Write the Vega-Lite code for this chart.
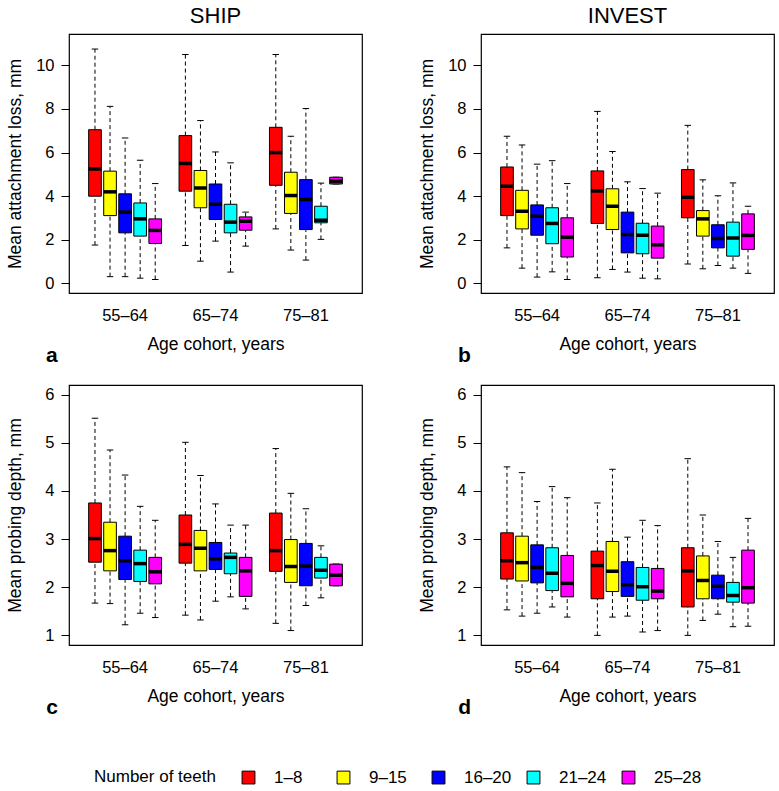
{
  "$schema": "https://vega.github.io/schema/vega-lite/v6.json",
  "padding": {"left": 6, "top": 4, "right": 5, "bottom": 5},
  "background": "white",
  "config": {
    "font": "Liberation Sans",
    "view": {"stroke": "black", "strokeWidth": 1.2},
    "axis": {"labelColor": "black", "titleColor": "black", "tickColor": "black", "titleFontWeight": "normal", "grid": false},
    "title": {"fontWeight": "normal", "color": "black"},
    "tick": {"opacity": 1},
    "concat": {"spacing": 0}
  },
  "data": {"values": [
    {"panel":"a","cohort":"55–64","teeth":"1–8","lo":1.76,"q1":4.0,"med":5.25,"q3":7.05,"hi":10.75},
    {"panel":"a","cohort":"55–64","teeth":"9–15","lo":0.31,"q1":3.11,"med":4.2,"q3":5.15,"hi":8.12},
    {"panel":"a","cohort":"55–64","teeth":"16–20","lo":0.31,"q1":2.32,"med":3.27,"q3":4.11,"hi":6.67},
    {"panel":"a","cohort":"55–64","teeth":"21–24","lo":0.24,"q1":2.17,"med":2.96,"q3":3.69,"hi":5.65},
    {"panel":"a","cohort":"55–64","teeth":"25–28","lo":0.18,"q1":1.83,"med":2.43,"q3":2.96,"hi":4.58},
    {"panel":"a","cohort":"65–74","teeth":"1–8","lo":1.74,"q1":4.23,"med":5.5,"q3":6.78,"hi":10.5},
    {"panel":"a","cohort":"65–74","teeth":"9–15","lo":1.02,"q1":3.47,"med":4.38,"q3":5.18,"hi":7.47},
    {"panel":"a","cohort":"65–74","teeth":"16–20","lo":1.94,"q1":2.93,"med":3.63,"q3":4.56,"hi":6.03},
    {"panel":"a","cohort":"65–74","teeth":"21–24","lo":0.52,"q1":2.32,"med":2.81,"q3":3.63,"hi":5.53},
    {"panel":"a","cohort":"65–74","teeth":"25–28","lo":1.71,"q1":2.44,"med":2.85,"q3":3.05,"hi":3.27},
    {"panel":"a","cohort":"75–81","teeth":"1–8","lo":2.5,"q1":4.5,"med":6.0,"q3":7.16,"hi":10.5},
    {"panel":"a","cohort":"75–81","teeth":"9–15","lo":1.53,"q1":3.21,"med":4.03,"q3":5.1,"hi":6.75},
    {"panel":"a","cohort":"75–81","teeth":"16–20","lo":1.07,"q1":2.47,"med":3.85,"q3":4.76,"hi":8.02},
    {"panel":"a","cohort":"75–81","teeth":"21–24","lo":2.02,"q1":2.78,"med":2.9,"q3":3.54,"hi":4.6},
    {"panel":"a","cohort":"75–81","teeth":"25–28","lo":4.56,"q1":4.56,"med":4.69,"q3":4.87,"hi":4.87},
    {"panel":"b","cohort":"55–64","teeth":"1–8","lo":1.63,"q1":3.11,"med":4.46,"q3":5.34,"hi":6.75},
    {"panel":"b","cohort":"55–64","teeth":"9–15","lo":0.7,"q1":2.5,"med":3.31,"q3":4.27,"hi":6.35},
    {"panel":"b","cohort":"55–64","teeth":"16–20","lo":0.29,"q1":2.21,"med":3.08,"q3":3.6,"hi":5.47},
    {"panel":"b","cohort":"55–64","teeth":"21–24","lo":0.53,"q1":1.82,"med":2.75,"q3":3.47,"hi":5.63},
    {"panel":"b","cohort":"55–64","teeth":"25–28","lo":0.18,"q1":1.21,"med":2.12,"q3":3.01,"hi":4.58},
    {"panel":"b","cohort":"65–74","teeth":"1–8","lo":0.26,"q1":2.75,"med":4.24,"q3":5.16,"hi":7.89},
    {"panel":"b","cohort":"65–74","teeth":"9–15","lo":0.64,"q1":2.47,"med":3.54,"q3":4.34,"hi":6.05},
    {"panel":"b","cohort":"65–74","teeth":"16–20","lo":0.52,"q1":1.4,"med":2.24,"q3":3.27,"hi":4.66},
    {"panel":"b","cohort":"65–74","teeth":"21–24","lo":0.24,"q1":1.36,"med":2.21,"q3":2.76,"hi":4.35},
    {"panel":"b","cohort":"65–74","teeth":"25–28","lo":0.21,"q1":1.16,"med":1.77,"q3":2.63,"hi":4.14},
    {"panel":"b","cohort":"75–81","teeth":"1–8","lo":0.89,"q1":3.01,"med":3.95,"q3":5.22,"hi":7.25},
    {"panel":"b","cohort":"75–81","teeth":"9–15","lo":0.67,"q1":2.17,"med":2.96,"q3":3.34,"hi":4.75},
    {"panel":"b","cohort":"75–81","teeth":"16–20","lo":0.82,"q1":1.63,"med":2.06,"q3":2.69,"hi":4.02},
    {"panel":"b","cohort":"75–81","teeth":"21–24","lo":0.7,"q1":1.25,"med":2.08,"q3":2.81,"hi":4.61},
    {"panel":"b","cohort":"75–81","teeth":"25–28","lo":0.46,"q1":1.56,"med":2.2,"q3":3.19,"hi":3.54},
    {"panel":"c","cohort":"55–64","teeth":"1–8","lo":1.67,"q1":2.52,"med":3.01,"q3":3.75,"hi":5.51},
    {"panel":"c","cohort":"55–64","teeth":"9–15","lo":1.66,"q1":2.34,"med":2.76,"q3":3.35,"hi":4.85},
    {"panel":"c","cohort":"55–64","teeth":"16–20","lo":1.22,"q1":2.16,"med":2.55,"q3":3.06,"hi":4.33},
    {"panel":"c","cohort":"55–64","teeth":"21–24","lo":1.46,"q1":2.12,"med":2.49,"q3":2.77,"hi":3.68},
    {"panel":"c","cohort":"55–64","teeth":"25–28","lo":1.37,"q1":2.07,"med":2.32,"q3":2.62,"hi":3.39},
    {"panel":"c","cohort":"65–74","teeth":"1–8","lo":1.42,"q1":2.5,"med":2.89,"q3":3.5,"hi":5.01},
    {"panel":"c","cohort":"65–74","teeth":"9–15","lo":1.32,"q1":2.34,"med":2.81,"q3":3.18,"hi":4.32},
    {"panel":"c","cohort":"65–74","teeth":"16–20","lo":1.71,"q1":2.37,"med":2.59,"q3":2.93,"hi":3.73},
    {"panel":"c","cohort":"65–74","teeth":"21–24","lo":1.8,"q1":2.28,"med":2.62,"q3":2.71,"hi":3.29},
    {"panel":"c","cohort":"65–74","teeth":"25–28","lo":1.55,"q1":1.81,"med":2.34,"q3":2.62,"hi":3.29},
    {"panel":"c","cohort":"75–81","teeth":"1–8","lo":1.25,"q1":2.33,"med":2.76,"q3":3.54,"hi":4.88},
    {"panel":"c","cohort":"75–81","teeth":"9–15","lo":1.1,"q1":2.1,"med":2.43,"q3":2.99,"hi":3.95},
    {"panel":"c","cohort":"75–81","teeth":"16–20","lo":1.62,"q1":2.03,"med":2.44,"q3":2.91,"hi":3.63},
    {"panel":"c","cohort":"75–81","teeth":"21–24","lo":1.78,"q1":2.19,"med":2.35,"q3":2.62,"hi":2.86},
    {"panel":"c","cohort":"75–81","teeth":"25–28","lo":2.03,"q1":2.03,"med":2.25,"q3":2.48,"hi":2.48},
    {"panel":"d","cohort":"55–64","teeth":"1–8","lo":1.53,"q1":2.17,"med":2.55,"q3":3.13,"hi":4.5},
    {"panel":"d","cohort":"55–64","teeth":"9–15","lo":1.4,"q1":2.13,"med":2.51,"q3":3.06,"hi":4.38},
    {"panel":"d","cohort":"55–64","teeth":"16–20","lo":1.46,"q1":2.09,"med":2.41,"q3":2.88,"hi":3.78},
    {"panel":"d","cohort":"55–64","teeth":"21–24","lo":1.59,"q1":1.93,"med":2.29,"q3":2.82,"hi":4.09},
    {"panel":"d","cohort":"55–64","teeth":"25–28","lo":1.38,"q1":1.8,"med":2.08,"q3":2.66,"hi":3.86},
    {"panel":"d","cohort":"65–74","teeth":"1–8","lo":1.0,"q1":1.76,"med":2.45,"q3":2.75,"hi":3.75},
    {"panel":"d","cohort":"65–74","teeth":"9–15","lo":1.38,"q1":1.91,"med":2.33,"q3":2.95,"hi":4.45},
    {"panel":"d","cohort":"65–74","teeth":"16–20","lo":1.4,"q1":1.81,"med":2.05,"q3":2.53,"hi":3.04},
    {"panel":"d","cohort":"65–74","teeth":"21–24","lo":1.07,"q1":1.73,"med":2.01,"q3":2.41,"hi":3.39},
    {"panel":"d","cohort":"65–74","teeth":"25–28","lo":1.1,"q1":1.76,"med":1.92,"q3":2.39,"hi":3.28},
    {"panel":"d","cohort":"75–81","teeth":"1–8","lo":1.0,"q1":1.59,"med":2.34,"q3":2.82,"hi":4.67},
    {"panel":"d","cohort":"75–81","teeth":"9–15","lo":1.31,"q1":1.76,"med":2.14,"q3":2.65,"hi":3.5},
    {"panel":"d","cohort":"75–81","teeth":"16–20","lo":1.44,"q1":1.76,"med":2.02,"q3":2.25,"hi":2.95},
    {"panel":"d","cohort":"75–81","teeth":"21–24","lo":1.18,"q1":1.69,"med":1.83,"q3":2.1,"hi":2.62},
    {"panel":"d","cohort":"75–81","teeth":"25–28","lo":1.19,"q1":1.67,"med":1.99,"q3":2.77,"hi":3.43}
  ]},
  "spacing": 18,
  "vconcat": [
    {"spacing": 55, "hconcat": [
      {"title": {"text": "a", "orient": "bottom", "anchor": "start", "fontWeight": "bold", "fontSize": 21, "offset": -9, "dx": 40},
       "vconcat": [{
        "width": 293, "height": 259,
        "title": {"text": "SHIP", "fontSize": 22, "offset": 6},
        "transform": [{"filter": "datum.panel == 'a'"}],
        "resolve": {"scale": {"xOffset": "independent"}},
        "encoding": {
          "x": {"field": "cohort", "type": "nominal", "scale": {"paddingInner": 0.167, "paddingOuter": 0.204},
                "axis": {"title": "Age cohort, years", "ticks": false, "domain": false, "labelAngle": 0, "labelFontSize": 16.5, "labelPadding": 14, "titleFontSize": 17.5, "titlePadding": 12}}
        },
        "layer": [
          {"mark": {"type": "rule", "strokeDash": [4,3], "color": "black", "strokeWidth": 1},
           "encoding": {"xOffset": {"field": "teeth", "type": "nominal", "sort": ["1–8","9–15","16–20","21–24","25–28"], "scale": {"type": "point", "padding": 0.5}},
                        "y": {"field": "q3", "type": "quantitative", "scale": {"domain": [-0.44, 11.44], "nice": false, "zero": false},
                              "axis": {"title": "Mean attachment loss, mm", "values": [0,2,4,6,8,10], "tickSize": 8, "domain": false, "labelFontSize": 16.5, "labelPadding": 7, "titleFontSize": 17.5, "titlePadding": 11}},
                        "y2": {"field": "hi"}}},
          {"mark": {"type": "rule", "strokeDash": [4,3], "color": "black", "strokeWidth": 1},
           "encoding": {"xOffset": {"field": "teeth", "type": "nominal", "sort": ["1–8","9–15","16–20","21–24","25–28"], "scale": {"type": "point", "padding": 0.5}},
                        "y": {"field": "lo", "type": "quantitative"}, "y2": {"field": "q1"}}},
          {"mark": {"type": "tick", "color": "black", "size": 6.5, "thickness": 1},
           "encoding": {"xOffset": {"field": "teeth", "type": "nominal", "sort": ["1–8","9–15","16–20","21–24","25–28"], "scale": {"type": "point", "padding": 0.5}},
                        "y": {"field": "hi", "type": "quantitative"}}},
          {"mark": {"type": "tick", "color": "black", "size": 6.5, "thickness": 1},
           "encoding": {"xOffset": {"field": "teeth", "type": "nominal", "sort": ["1–8","9–15","16–20","21–24","25–28"], "scale": {"type": "point", "padding": 0.5}},
                        "y": {"field": "lo", "type": "quantitative"}}},
          {"mark": {"type": "bar", "stroke": "black", "strokeWidth": 1, "width": {"band": 1}, "opacity": 1},
           "encoding": {"xOffset": {"field": "teeth", "type": "nominal", "sort": ["1–8","9–15","16–20","21–24","25–28"], "scale": {"paddingInner": 0.16, "paddingOuter": 0.08}},
                        "y": {"field": "q1", "type": "quantitative"}, "y2": {"field": "q3"},
                        "color": {"field": "teeth", "type": "nominal", "sort": ["1–8","9–15","16–20","21–24","25–28"],
                                  "scale": {"domain": ["1–8","9–15","16–20","21–24","25–28"], "range": ["#FF0000","#FFFF00","#0000FF","#00FFFF","#FF00FF"]},
                                  "legend": {"title": "Number of teeth", "orient": "none", "legendX": 25, "legendY": 735, "direction": "horizontal", "titleOrient": "left", "titleFontSize": 17, "titleFontWeight": "normal", "labelFontSize": 17, "titleColor": "black", "labelColor": "black", "symbolType": "square", "symbolSize": 165, "symbolStrokeColor": "black", "symbolStrokeWidth": 1, "symbolOpacity": 1, "columns": 5, "gridAlign": "all", "columnPadding": 13, "labelOffset": 17, "titlePadding": 24}}}},
          {"mark": {"type": "tick", "color": "black", "size": 12.7, "thickness": 3.5},
           "encoding": {"xOffset": {"field": "teeth", "type": "nominal", "sort": ["1–8","9–15","16–20","21–24","25–28"], "scale": {"type": "point", "padding": 0.5}},
                        "y": {"field": "med", "type": "quantitative"}}}
        ]
      }]},
      {"title": {"text": "b", "orient": "bottom", "anchor": "start", "fontWeight": "bold", "fontSize": 21, "offset": -9, "dx": 40},
       "vconcat": [{
        "width": 293, "height": 259,
        "title": {"text": "INVEST", "fontSize": 22, "offset": 6},
        "transform": [{"filter": "datum.panel == 'b'"}],
        "resolve": {"scale": {"xOffset": "independent"}},
        "encoding": {
          "x": {"field": "cohort", "type": "nominal", "scale": {"paddingInner": 0.167, "paddingOuter": 0.204},
                "axis": {"title": "Age cohort, years", "ticks": false, "domain": false, "labelAngle": 0, "labelFontSize": 16.5, "labelPadding": 14, "titleFontSize": 17.5, "titlePadding": 12}}
        },
        "layer": [
          {"mark": {"type": "rule", "strokeDash": [4,3], "color": "black", "strokeWidth": 1},
           "encoding": {"xOffset": {"field": "teeth", "type": "nominal", "sort": ["1–8","9–15","16–20","21–24","25–28"], "scale": {"type": "point", "padding": 0.5}},
                        "y": {"field": "q3", "type": "quantitative", "scale": {"domain": [-0.44, 11.44], "nice": false, "zero": false},
                              "axis": {"title": "Mean attachment loss, mm", "values": [0,2,4,6,8,10], "tickSize": 8, "domain": false, "labelFontSize": 16.5, "labelPadding": 7, "titleFontSize": 17.5, "titlePadding": 11}},
                        "y2": {"field": "hi"}}},
          {"mark": {"type": "rule", "strokeDash": [4,3], "color": "black", "strokeWidth": 1},
           "encoding": {"xOffset": {"field": "teeth", "type": "nominal", "sort": ["1–8","9–15","16–20","21–24","25–28"], "scale": {"type": "point", "padding": 0.5}},
                        "y": {"field": "lo", "type": "quantitative"}, "y2": {"field": "q1"}}},
          {"mark": {"type": "tick", "color": "black", "size": 6.5, "thickness": 1},
           "encoding": {"xOffset": {"field": "teeth", "type": "nominal", "sort": ["1–8","9–15","16–20","21–24","25–28"], "scale": {"type": "point", "padding": 0.5}},
                        "y": {"field": "hi", "type": "quantitative"}}},
          {"mark": {"type": "tick", "color": "black", "size": 6.5, "thickness": 1},
           "encoding": {"xOffset": {"field": "teeth", "type": "nominal", "sort": ["1–8","9–15","16–20","21–24","25–28"], "scale": {"type": "point", "padding": 0.5}},
                        "y": {"field": "lo", "type": "quantitative"}}},
          {"mark": {"type": "bar", "stroke": "black", "strokeWidth": 1, "width": {"band": 1}, "opacity": 1},
           "encoding": {"xOffset": {"field": "teeth", "type": "nominal", "sort": ["1–8","9–15","16–20","21–24","25–28"], "scale": {"paddingInner": 0.16, "paddingOuter": 0.08}},
                        "y": {"field": "q1", "type": "quantitative"}, "y2": {"field": "q3"},
                        "color": {"field": "teeth", "type": "nominal", "sort": ["1–8","9–15","16–20","21–24","25–28"]}}},
          {"mark": {"type": "tick", "color": "black", "size": 12.7, "thickness": 3.5},
           "encoding": {"xOffset": {"field": "teeth", "type": "nominal", "sort": ["1–8","9–15","16–20","21–24","25–28"], "scale": {"type": "point", "padding": 0.5}},
                        "y": {"field": "med", "type": "quantitative"}}}
        ]
      }]}
    ]},
    {"spacing": 55, "hconcat": [
      {"title": {"text": "c", "orient": "bottom", "anchor": "start", "fontWeight": "bold", "fontSize": 21, "offset": -9, "dx": 40},
       "vconcat": [{
        "width": 293, "height": 260,
        "transform": [{"filter": "datum.panel == 'c'"}],
        "resolve": {"scale": {"xOffset": "independent"}},
        "encoding": {
          "x": {"field": "cohort", "type": "nominal", "scale": {"paddingInner": 0.167, "paddingOuter": 0.204},
                "axis": {"title": "Age cohort, years", "ticks": false, "domain": false, "labelAngle": 0, "labelFontSize": 16.5, "labelPadding": 14, "titleFontSize": 17.5, "titlePadding": 12}}
        },
        "layer": [
          {"mark": {"type": "rule", "strokeDash": [4,3], "color": "black", "strokeWidth": 1},
           "encoding": {"xOffset": {"field": "teeth", "type": "nominal", "sort": ["1–8","9–15","16–20","21–24","25–28"], "scale": {"type": "point", "padding": 0.5}},
                        "y": {"field": "q3", "type": "quantitative", "scale": {"domain": [0.8, 6.2], "nice": false, "zero": false},
                              "axis": {"title": "Mean probing depth, mm", "values": [1,2,3,4,5,6], "tickSize": 8, "domain": false, "labelFontSize": 16.5, "labelPadding": 7, "titleFontSize": 17.5, "titlePadding": 20}},
                        "y2": {"field": "hi"}}},
          {"mark": {"type": "rule", "strokeDash": [4,3], "color": "black", "strokeWidth": 1},
           "encoding": {"xOffset": {"field": "teeth", "type": "nominal", "sort": ["1–8","9–15","16–20","21–24","25–28"], "scale": {"type": "point", "padding": 0.5}},
                        "y": {"field": "lo", "type": "quantitative"}, "y2": {"field": "q1"}}},
          {"mark": {"type": "tick", "color": "black", "size": 6.5, "thickness": 1},
           "encoding": {"xOffset": {"field": "teeth", "type": "nominal", "sort": ["1–8","9–15","16–20","21–24","25–28"], "scale": {"type": "point", "padding": 0.5}},
                        "y": {"field": "hi", "type": "quantitative"}}},
          {"mark": {"type": "tick", "color": "black", "size": 6.5, "thickness": 1},
           "encoding": {"xOffset": {"field": "teeth", "type": "nominal", "sort": ["1–8","9–15","16–20","21–24","25–28"], "scale": {"type": "point", "padding": 0.5}},
                        "y": {"field": "lo", "type": "quantitative"}}},
          {"mark": {"type": "bar", "stroke": "black", "strokeWidth": 1, "width": {"band": 1}, "opacity": 1},
           "encoding": {"xOffset": {"field": "teeth", "type": "nominal", "sort": ["1–8","9–15","16–20","21–24","25–28"], "scale": {"paddingInner": 0.16, "paddingOuter": 0.08}},
                        "y": {"field": "q1", "type": "quantitative"}, "y2": {"field": "q3"},
                        "color": {"field": "teeth", "type": "nominal", "sort": ["1–8","9–15","16–20","21–24","25–28"]}}},
          {"mark": {"type": "tick", "color": "black", "size": 12.7, "thickness": 3.5},
           "encoding": {"xOffset": {"field": "teeth", "type": "nominal", "sort": ["1–8","9–15","16–20","21–24","25–28"], "scale": {"type": "point", "padding": 0.5}},
                        "y": {"field": "med", "type": "quantitative"}}}
        ]
      }]},
      {"title": {"text": "d", "orient": "bottom", "anchor": "start", "fontWeight": "bold", "fontSize": 21, "offset": -9, "dx": 40},
       "vconcat": [{
        "width": 293, "height": 260,
        "transform": [{"filter": "datum.panel == 'd'"}],
        "resolve": {"scale": {"xOffset": "independent"}},
        "encoding": {
          "x": {"field": "cohort", "type": "nominal", "scale": {"paddingInner": 0.167, "paddingOuter": 0.204},
                "axis": {"title": "Age cohort, years", "ticks": false, "domain": false, "labelAngle": 0, "labelFontSize": 16.5, "labelPadding": 14, "titleFontSize": 17.5, "titlePadding": 12}}
        },
        "layer": [
          {"mark": {"type": "rule", "strokeDash": [4,3], "color": "black", "strokeWidth": 1},
           "encoding": {"xOffset": {"field": "teeth", "type": "nominal", "sort": ["1–8","9–15","16–20","21–24","25–28"], "scale": {"type": "point", "padding": 0.5}},
                        "y": {"field": "q3", "type": "quantitative", "scale": {"domain": [0.8, 6.2], "nice": false, "zero": false},
                              "axis": {"title": "Mean probing depth, mm", "values": [1,2,3,4,5,6], "tickSize": 8, "domain": false, "labelFontSize": 16.5, "labelPadding": 7, "titleFontSize": 17.5, "titlePadding": 20}},
                        "y2": {"field": "hi"}}},
          {"mark": {"type": "rule", "strokeDash": [4,3], "color": "black", "strokeWidth": 1},
           "encoding": {"xOffset": {"field": "teeth", "type": "nominal", "sort": ["1–8","9–15","16–20","21–24","25–28"], "scale": {"type": "point", "padding": 0.5}},
                        "y": {"field": "lo", "type": "quantitative"}, "y2": {"field": "q1"}}},
          {"mark": {"type": "tick", "color": "black", "size": 6.5, "thickness": 1},
           "encoding": {"xOffset": {"field": "teeth", "type": "nominal", "sort": ["1–8","9–15","16–20","21–24","25–28"], "scale": {"type": "point", "padding": 0.5}},
                        "y": {"field": "hi", "type": "quantitative"}}},
          {"mark": {"type": "tick", "color": "black", "size": 6.5, "thickness": 1},
           "encoding": {"xOffset": {"field": "teeth", "type": "nominal", "sort": ["1–8","9–15","16–20","21–24","25–28"], "scale": {"type": "point", "padding": 0.5}},
                        "y": {"field": "lo", "type": "quantitative"}}},
          {"mark": {"type": "bar", "stroke": "black", "strokeWidth": 1, "width": {"band": 1}, "opacity": 1},
           "encoding": {"xOffset": {"field": "teeth", "type": "nominal", "sort": ["1–8","9–15","16–20","21–24","25–28"], "scale": {"paddingInner": 0.16, "paddingOuter": 0.08}},
                        "y": {"field": "q1", "type": "quantitative"}, "y2": {"field": "q3"},
                        "color": {"field": "teeth", "type": "nominal", "sort": ["1–8","9–15","16–20","21–24","25–28"]}}},
          {"mark": {"type": "tick", "color": "black", "size": 12.7, "thickness": 3.5},
           "encoding": {"xOffset": {"field": "teeth", "type": "nominal", "sort": ["1–8","9–15","16–20","21–24","25–28"], "scale": {"type": "point", "padding": 0.5}},
                        "y": {"field": "med", "type": "quantitative"}}}
        ]
      }]}
    ]}
  ]
}
